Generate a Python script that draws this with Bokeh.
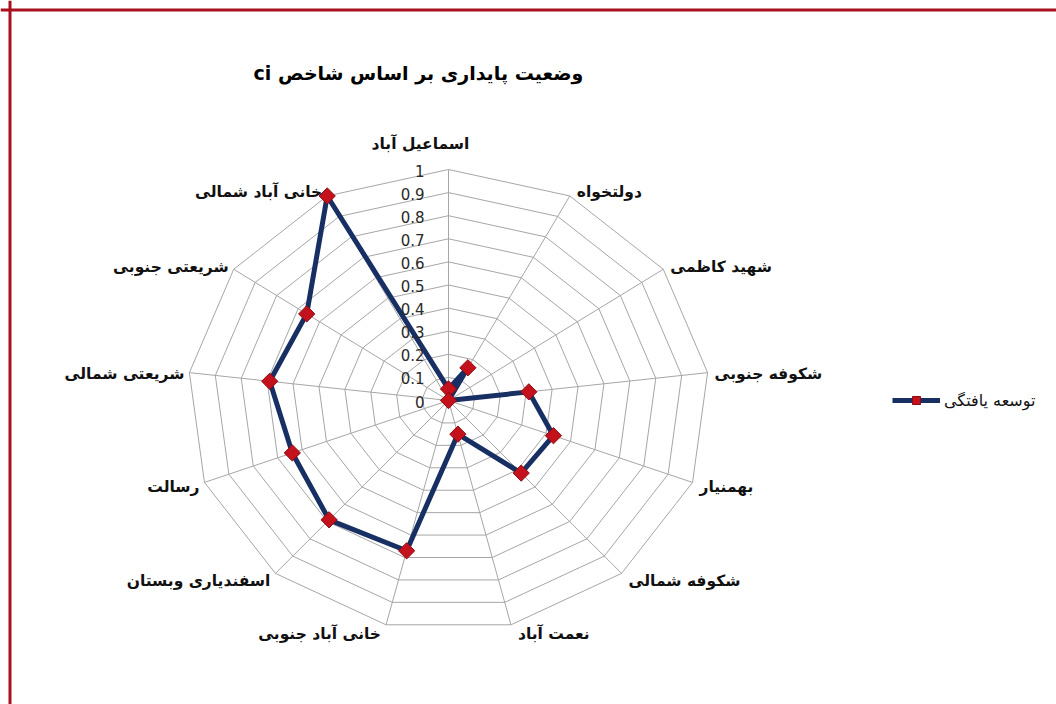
import numpy as np
from bokeh.plotting import figure
from bokeh.models import Range1d, Legend, LegendItem, ColumnDataSource
from bokeh.core.properties import value
from bokeh.embed import file_html
from bokeh.resources import INLINE

# ---------------- data ----------------
title_text = "وضعیت پایداری بر اساس شاخص ci"
series_name = "توسعه یافتگی"
categories = [
    "اسماعیل آباد", "دولتخواه", "شهید کاظمی", "شکوفه جنوبی", "بهمنیار",
    "شکوفه شمالی", "نعمت آباد", "خانی آباد جنوبی", "اسفندیاری وبستان",
    "رسالت", "شریعتی شمالی", "شریعتی جنوبی", "خانی آباد شمالی",
]
values = [0.05, 0.16, 0.0, 0.31, 0.43, 0.42, 0.15, 0.67, 0.69, 0.64, 0.69, 0.66, 1.0]
ring_values = [0.1, 0.2, 0.3, 0.4, 0.5, 0.6, 0.7, 0.8, 0.9, 1.0]
tick_labels = ["0", "0.1", "0.2", "0.3", "0.4", "0.5", "0.6", "0.7", "0.8", "0.9", "1"]
tick_values = [0.0, 0.1, 0.2, 0.3, 0.4, 0.5, 0.6, 0.7, 0.8, 0.9, 1.0]

# ---------------- geometry ----------------
W, H = 1056, 704
ORG = 0                    # page offset of the figure
CX, CY = 448, 400          # page pixel of radar centre
RX, RY = 261, 231          # page pixels per unit (x stretched like the original)
x0, x1 = (ORG - CX) / RX, (ORG + W - CX) / RX
y1, y0 = (CY - ORG) / RY, (CY - ORG - H) / RY

def px(x, y):
    """page pixel -> data coordinates"""
    return (x - CX) / RX, (CY - y) / RY

n = len(categories)
theta = np.arange(n) * 2 * np.pi / n
s, c = np.sin(theta), np.cos(theta)

p = figure(width=W, height=H, x_range=Range1d(x0, x1), y_range=Range1d(y0, y1),
           output_backend="svg", toolbar_location=None, min_border=0,
           background_fill_color="white", border_fill_color="white")
p.axis.visible = False
p.xgrid.visible = False
p.ygrid.visible = False
p.outline_line_color = None

FONT_NAME = "DejaVu Sans"
FONT = value(FONT_NAME)
GRID = "#a6a6a6"

# rings
rx = [list(np.append(r * s, r * s[0])) for r in ring_values]
ry = [list(np.append(r * c, r * c[0])) for r in ring_values]
p.multi_line(rx, ry, line_color=GRID, line_width=1)
# spokes
p.segment(x0=np.zeros(n), y0=np.zeros(n), x1=s, y1=c, line_color=GRID, line_width=1)

# series
v = np.array(values)
sx, sy = v * s, v * c
line_r = p.line(np.append(sx, sx[0]), np.append(sy, sy[0]), line_color="#172f63",
                line_width=5, line_join="round")
mark_r = p.scatter(sx, sy, marker="square", angle=np.pi / 4, size=11.5,
                   fill_color="#c3121c", line_color="#8e0b14", line_width=1)

# tick labels on the vertical spoke
p.text(x=np.zeros(len(tick_values)), y=tick_values, text=tick_labels,
       x_offset=-24, y_offset=1, text_align="right", text_baseline="middle",
       text_font=FONT, text_font_size="15px", text_color="#2a2a2a")

# category labels
right = s > 0.2
left = s < -0.2
aligns = np.where(right, "left", np.where(left, "right", "center"))
xoff = np.where(right, 7, np.where(left, -5, -28))
yoff = np.where(np.abs(s) > 0.2, 2 - 7 * c, -26)
src = ColumnDataSource(dict(x=s, y=c, text=categories, align=aligns, xo=xoff, yo=yoff))
p.text(x="x", y="y", text="text", source=src, text_align="align", x_offset="xo",
       y_offset="yo", text_baseline="middle", text_font=FONT, text_font_style="bold",
       text_font_size="15.5px", text_color="#111111")

# title (RTL embedding so that "ci" sits at the left end)
tx, ty = px(418, 72)
p.text(x=[tx], y=[ty], text=["\u202b" + title_text + "\u202c"], text_align="center",
       text_baseline="middle", text_font=FONT, text_font_style="bold",
       text_font_size="19px", text_color="black")

# legend (location: pixels from the frame's bottom-left corner)
legend = Legend(items=[LegendItem(label=series_name, renderers=[line_r, mark_r])],
                location=(892 - ORG, (ORG + H) - 410), orientation="vertical",
                glyph_width=48, glyph_height=20, label_standoff=4, padding=0,
                margin=0, spacing=0, border_line_color=None, background_fill_alpha=0,
                label_text_font=FONT_NAME, label_text_font_size="16px",
                label_text_color="#111111")
p.add_layout(legend, "center")

# red border (top and left edges of the picture)
bx, by = px(9.5, 9.5)
p.segment(x0=[x0, bx], y0=[by, y1], x1=[x1, bx], y1=[by, y0],
          line_color="#a8101e", line_width=3)

open("out.html", "w").write(file_html(p, INLINE))
